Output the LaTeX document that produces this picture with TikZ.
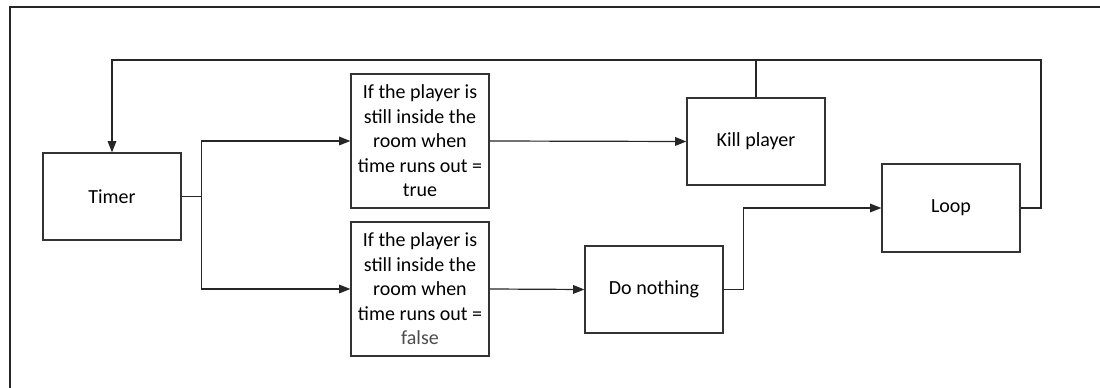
\documentclass[tikz,border=0pt]{standalone}
\usepackage{fontspec}
\setmainfont{Carlito}
\usetikzlibrary{arrows.meta}

\tikzset{every picture/.style={line width=0.75pt}}
\tikzset{
  blockbox/.style={draw=black!80, line width=0.9pt, fill=white, minimum width=103.5pt, inner sep=0.75pt, align=center, font=\fontsize{15}{18.4}\selectfont},
  flowline/.style={draw=black!85, line width=0.9pt},
  flowarrow/.style={flowline, -{Triangle[length=8.5pt,width=6.5pt]}}
}

\begin{document}
\begin{tikzpicture}[x=0.75pt,y=0.75pt,yscale=-1,xscale=1]
\useasboundingbox (0,0) rectangle (1100,388);

%Frame
\draw [line width=1.2pt, color=black!85] (10,388) -- (10,7) -- (1100,7) ;

% Text Node
\node [blockbox, minimum height=65.25pt] (timer) at (112,196.5) {Timer};
% Text Node
\node [blockbox, minimum height=100.5pt] (condtrue) at (420,141) {If the player is\\still inside the\\room when\\time runs out =\\true};
% Text Node
\node [blockbox, minimum height=100.5pt] (condfalse) at (420,289) {If the player is\\still inside the\\room when\\time runs out =\\\textcolor{black!70}{false}};
% Text Node
\node [blockbox, minimum height=65.25pt] (kill) at (756,141.5) {Kill player};
% Text Node
\node [blockbox, minimum height=65.25pt] (donothing) at (654,289.5) {Do nothing};
% Text Node
\node [blockbox, minimum height=66pt] (loop) at (951,208) {Loop};

\coordinate (backright) at (1041,60);
\coordinate (backleft) at (112,60);

%Straight Lines
\draw [flowarrow] (timer.east) -- ++(20,0) |- (condtrue.west);
\draw [flowarrow] (timer.east) -- ++(20,0) |- (condfalse.west);
\draw [flowarrow] (condtrue.east) -- (kill.west);
\draw [flowarrow] (condfalse.east) -- (donothing.west);
\draw [flowarrow] (donothing.east) -- ++(20,0) |- (loop.west);
%Feedback
\draw [flowarrow] (loop.east) -| (backright) -- (backleft) -- (timer.north);
\draw [flowline] (kill.north) -- (kill.north |- backright);

\end{tikzpicture}
\end{document}
